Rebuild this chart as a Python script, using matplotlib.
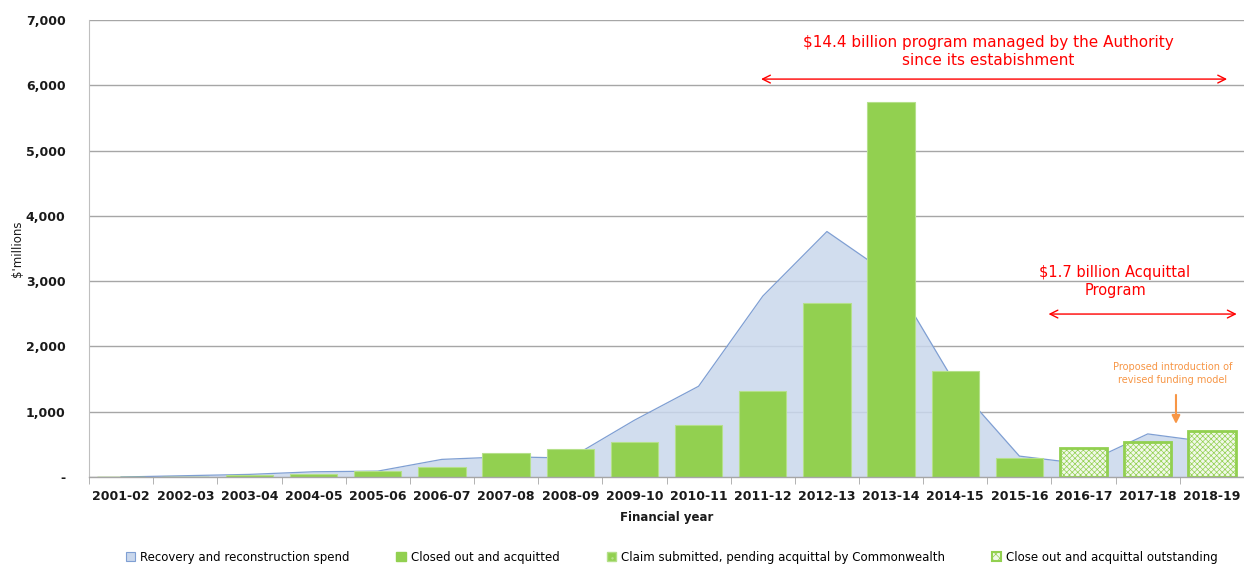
import matplotlib
matplotlib.use("Agg")
import matplotlib.pyplot as plt
import numpy as np
from matplotlib.patches import Patch
from matplotlib.ticker import FuncFormatter, MultipleLocator

years = ["2001-02", "2002-03", "2003-04", "2004-05", "2005-06", "2006-07",
         "2007-08", "2008-09", "2009-10", "2010-11", "2011-12", "2012-13",
         "2013-14", "2014-15", "2015-16", "2016-17", "2017-18", "2018-19"]

recovery_spend = [0, 20, 40, 80, 90, 270, 310, 290, 870, 1390, 2770, 3760,
                  3080, 1430, 320, 200, 660, 530]

closed_out = [0, 0, 30, 50, 90, 160, 360, 430, 540, 800, 1310, 2670,
              5740, 1620, 290, 0, 0, 0]

claim_submitted = [0] * 18

outstanding = [0, 0, 0, 0, 0, 0, 0, 0, 0, 0, 0, 0, 0, 0, 0, 440, 540, 700]

plt.rcParams['font.family'] = ['DejaVu Sans']
plt.rcParams['hatch.linewidth'] = 0.5

W, H = 1244, 567
fig = plt.figure(figsize=(W / 100, H / 100), dpi=100)
ax = fig.add_axes([89 / W, (H - 477) / H, (1244 - 89) / W, (477 - 20) / H])

x = np.arange(len(years))
green = "#92D050"
area_fc = "#C9D7EC"
area_ec = "#7F9FD3"

ax.set_xlim(-0.5, len(years) - 0.5)
ax.set_ylim(0, 7000)

ax.yaxis.set_major_locator(MultipleLocator(1000))
ax.grid(axis='y', color="#A6A6A6", linewidth=1.0, zorder=0)
ax.set_axisbelow(True)

ax.fill_between(x, recovery_spend, color=area_fc, alpha=0.85, zorder=1, linewidth=0)
ax.plot(x, recovery_spend, color=area_ec, linewidth=0.9, zorder=1.5)

bw = 0.74
ax.bar(x, closed_out, width=bw, color=green, edgecolor="#B5E08A", linewidth=0.8, zorder=2)
ax.bar(x, claim_submitted, width=bw, color=green, edgecolor=green, zorder=2)
mask = np.array(outstanding) > 0
ax.bar(x[mask], np.array(outstanding)[mask], width=bw, facecolor="#F1F8E9",
       edgecolor=green, hatch="xxxxxx", linewidth=2.0, zorder=2)

# axes styling
for s in ["top", "right"]:
    ax.spines[s].set_visible(False)
ax.spines["left"].set_color("#BFBFBF")
ax.spines["bottom"].set_color("#A6A6A6")
ax.spines["bottom"].set_linewidth(1.0)

ax.set_xticks(x)
ax.set_xticklabels(years, fontsize=9, fontweight='bold', color="#1A1A1A")
ax.tick_params(axis='x', which='major', length=0, pad=9)
ax.set_xticks(np.arange(-0.5, len(years) + 0.5, 1), minor=True)
ax.tick_params(axis='x', which='minor', length=5, color="#A6A6A6")

ax.yaxis.set_major_formatter(FuncFormatter(lambda v, p: "-" if v == 0 else f"{int(v):,}"))
ax.tick_params(axis='y', length=0, labelsize=9, pad=17)
for lab in ax.get_yticklabels():
    lab.set_fontweight('bold')
    lab.set_color("#1A1A1A")

ax.set_ylabel("$'millions", fontsize=8.5, color="#1A1A1A")
ax.yaxis.set_label_coords(-0.056, 0.5)
ax.set_xlabel("Financial year", fontsize=8.5, fontweight='bold', color="#1A1A1A", labelpad=6)

# annotations
red = "#FF0000"
ax.text(13.51, 6510, "$14.4 billion program managed by the Authority\nsince its estabishment",
        ha='center', va='center', color=red, fontsize=11, linespacing=1.25)
ax.annotate("", xy=(9.93, 6095), xytext=(17.28, 6095),
            arrowprops=dict(arrowstyle="<->", color=red, lw=1.0, mutation_scale=14))
ax.text(15.49, 2995, "$1.7 billion Acquittal\nProgram", ha='center', va='center',
        color=red, fontsize=10.5, linespacing=1.25)
ax.annotate("", xy=(14.41, 2496), xytext=(17.43, 2496),
            arrowprops=dict(arrowstyle="<->", color=red, lw=1.0, mutation_scale=14),
            annotation_clip=False)

orange = "#F79646"
ax.text(16.39, 1580, "Proposed introduction of\nrevised funding model", ha='center', va='center',
        color=orange, fontsize=7, linespacing=1.35)
ax.annotate("", xy=(16.44, 770), xytext=(16.44, 1300),
            arrowprops=dict(arrowstyle="-|>", color=orange, lw=1.5, mutation_scale=12))

handles = [
    Patch(facecolor=area_fc, edgecolor=area_ec, linewidth=0.8, label="Recovery and reconstruction spend"),
    Patch(facecolor=green, edgecolor=green, label="Closed out and acquitted"),
    Patch(facecolor=green, edgecolor="#B5E08A", hatch="..", label="Claim submitted, pending acquittal by Commonwealth"),
    Patch(facecolor="#F1F8E9", edgecolor=green, hatch="xxxx", linewidth=1.5, label="Close out and acquittal outstanding"),
]
fig.legend(handles=handles, loc='center', bbox_to_anchor=(0.54, (H - 557) / H),
           ncol=4, frameon=False, fontsize=8.5, handlelength=0.8, handleheight=0.9,
           handletextpad=0.4, columnspacing=4.0)

fig.savefig("out.png", dpi=100)
